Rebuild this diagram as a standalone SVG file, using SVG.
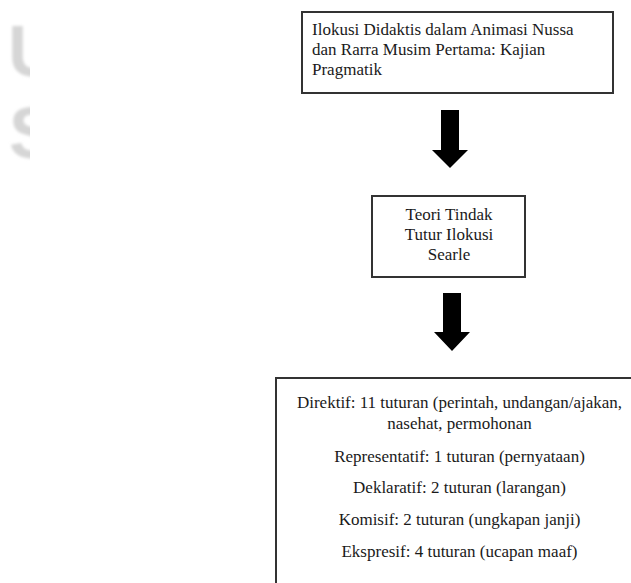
<svg xmlns="http://www.w3.org/2000/svg" width="631" height="583" viewBox="0 0 631 583">
<style>
.box{fill:#fff;stroke:#333;stroke-width:2}
.t{font-family:"Liberation Serif","Times New Roman",serif;font-size:17px;fill:#1a1a1a}
.c{text-anchor:middle}
.arrow{fill:#000}
.wm{font-family:"Liberation Sans",Arial,sans-serif;font-size:72px;font-weight:bold;fill:#d6d6d6}
</style>
<defs>
<clipPath id="wmclip"><rect x="0" y="0" width="30" height="200"/></clipPath>
<filter id="blur"><feGaussianBlur stdDeviation="1.5"/></filter>
</defs>
<rect width="631" height="583" fill="#fff"/>
<g id="watermark" clip-path="url(#wmclip)" filter="url(#blur)">
<text class="wm" x="8" y="76">U</text>
<text class="wm" x="9" y="158">S</text>
</g>
<g id="connectors">
<polygon class="arrow" points="441,110 459,110 459,150 468,150 450,168 432,150 441,150"/>
<polygon class="arrow" points="443,293 461,293 461,332 470,332 452,351 434,332 443,332"/>
</g>
<g id="node-title">
<rect class="box" x="302" y="12" width="311" height="81"/>
<text class="t" x="312" y="35">Ilokusi Didaktis dalam Animasi Nussa</text>
<text class="t" x="312" y="55">dan Rarra Musim Pertama: Kajian</text>
<text class="t" x="312" y="75">Pragmatik</text>
</g>
<g id="node-theory">
<rect class="box" x="372" y="196" width="153" height="81"/>
<text class="t c" x="449" y="220">Teori Tindak</text>
<text class="t c" x="449" y="240">Tutur Ilokusi</text>
<text class="t c" x="449" y="260">Searle</text>
</g>
<g id="node-results">
<rect class="box" x="276" y="378" width="380" height="220"/>
<text class="t c" x="459.5" y="408">Direktif: 11 tuturan (perintah, undangan/ajakan,</text>
<text class="t c" x="459.5" y="429">nasehat, permohonan</text>
<text class="t c" x="459.5" y="462">Representatif: 1 tuturan (pernyataan)</text>
<text class="t c" x="459.5" y="493">Deklaratif: 2 tuturan (larangan)</text>
<text class="t c" x="459.5" y="525">Komisif: 2 tuturan (ungkapan janji)</text>
<text class="t c" x="459.5" y="557">Ekspresif: 4 tuturan (ucapan maaf)</text>
</g>
</svg>
